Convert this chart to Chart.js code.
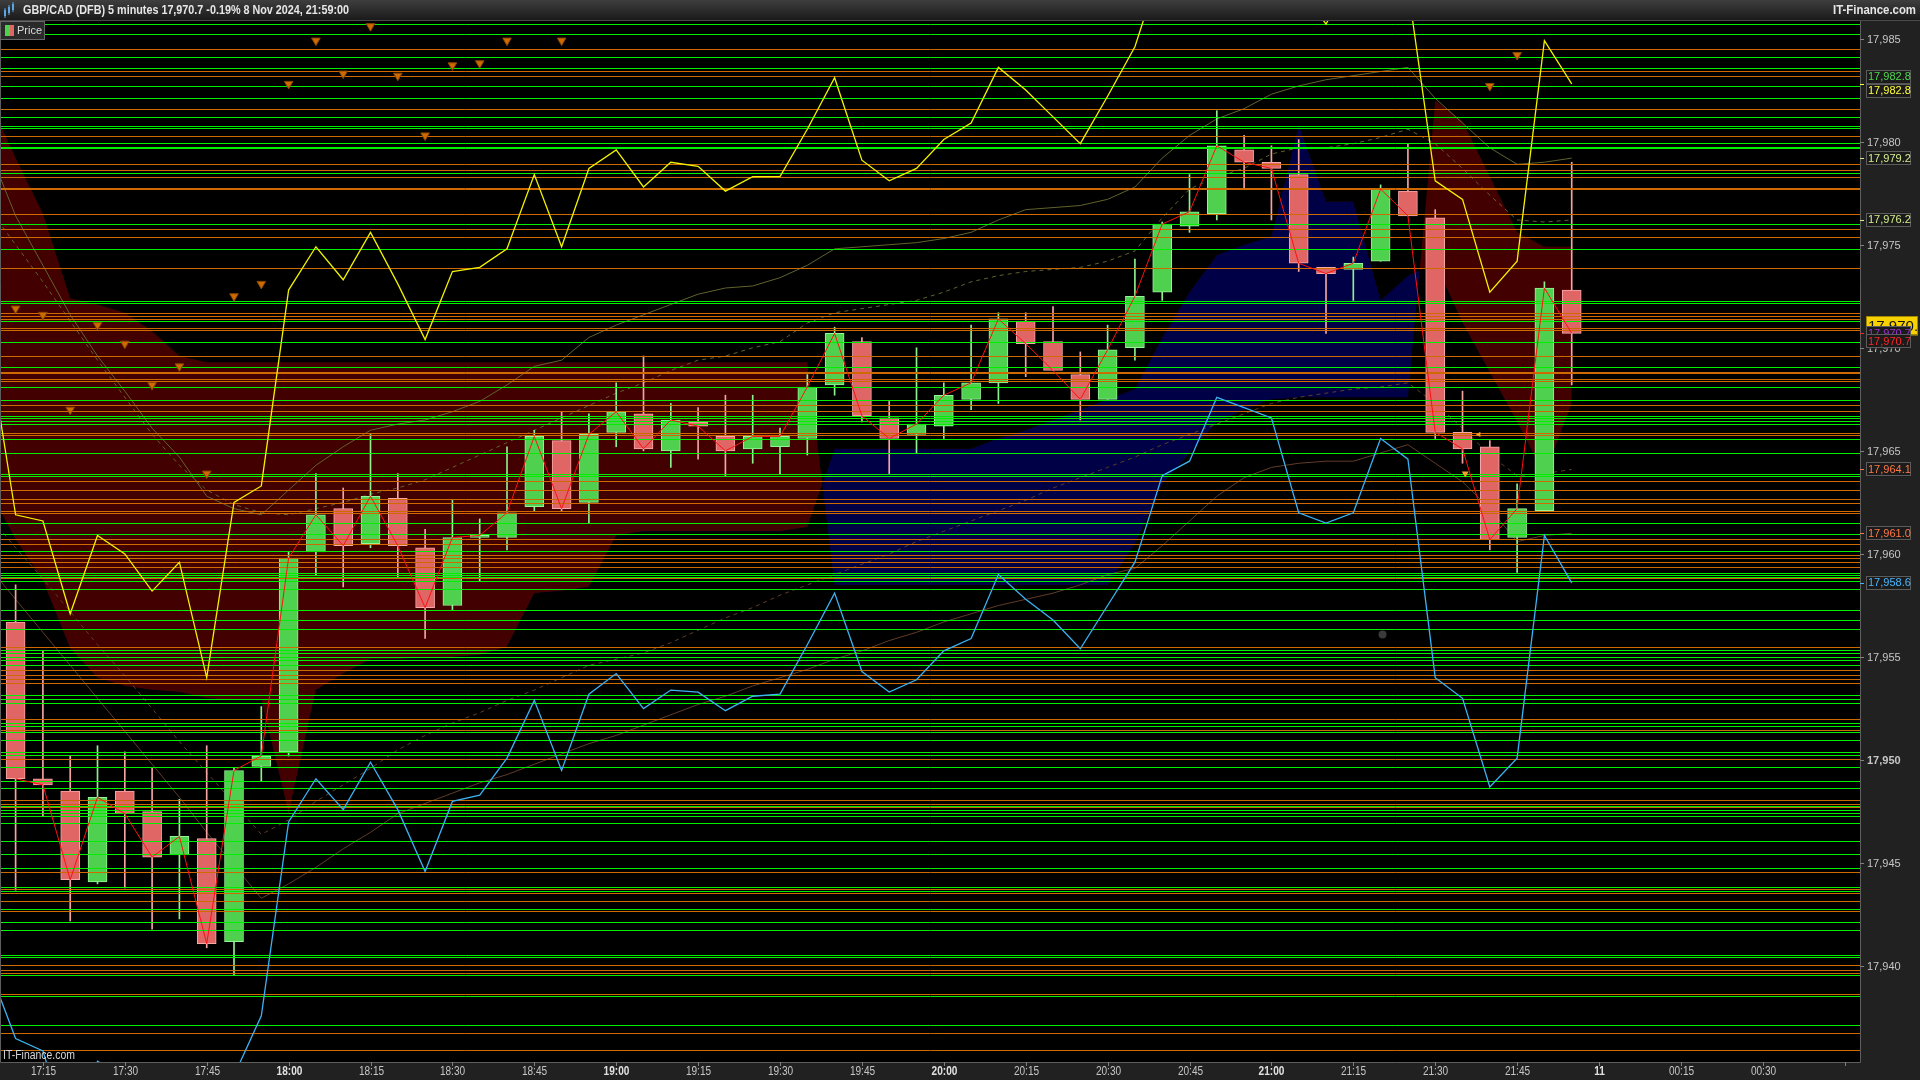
<!DOCTYPE html>
<html>
<head>
<meta charset="utf-8">
<title>GBP/CAD (DFB) 5 minutes</title>
<script src="https://cdn.jsdelivr.net/npm/chart.js@4.4.1/dist/chart.umd.min.js"></script>
<style>
  html, body { margin: 0; padding: 0; background: #000; overflow: hidden; }
</style>
</head>
<body>
<canvas id="priceChart" width="1920" height="1080"></canvas>
<script>
// 5 minute candles, index 0 = 17:10, index 57 = 21:55 (8 Nov 2024)
const opens  = [17956.7,17949.1,17948.5,17944.1,17948.5,17947.5,17945.4,17946.2,17941.2,17949.7,17950.4,17960.1,17962.2,17960.5,17962.7,17960.3,17957.5,17960.8,17960.8,17962.3,17965.5,17962.5,17965.9,17966.8,17965.0,17966.4,17965.7,17965.1,17965.2,17965.6,17968.2,17970.3,17966.6,17965.8,17966.2,17967.5,17968.3,17971.3,17970.3,17968.7,17967.5,17970.0,17972.7,17975.9,17976.5,17979.6,17979.0,17978.4,17973.9,17973.8,17974.2,17977.6,17976.3,17965.9,17965.2,17960.8,17962.1,17972.8];
const highs  = [17958.5,17955.3,17950.2,17950.7,17950.4,17949.6,17948.1,17950.7,17949.6,17952.6,17960.1,17963.9,17963.2,17965.8,17963.9,17961.2,17962.6,17961.7,17965.2,17966.0,17966.9,17966.8,17968.3,17969.6,17967.3,17967.1,17967.7,17967.7,17966.1,17968.7,17971.0,17970.5,17967.4,17970.0,17968.3,17971.1,17971.7,17971.7,17972.0,17969.8,17971.1,17974.3,17976.1,17978.4,17981.5,17980.3,17979.8,17980.1,17973.9,17974.4,17977.9,17979.9,17976.7,17967.9,17965.5,17963.4,17973.2,17979.0];
const lows   = [17943.7,17947.3,17942.2,17944.0,17943.8,17941.8,17942.3,17940.9,17939.6,17949.0,17950.2,17959.0,17958.4,17960.3,17958.9,17955.9,17957.3,17958.7,17960.2,17962.1,17962.1,17961.5,17965.2,17965.0,17964.2,17964.6,17963.8,17964.4,17963.9,17964.8,17967.7,17966.4,17963.9,17964.9,17965.6,17967.0,17967.3,17968.6,17968.9,17966.5,17967.5,17969.4,17972.3,17975.6,17976.2,17977.7,17976.2,17973.7,17970.7,17972.3,17974.2,17976.4,17965.6,17964.4,17960.2,17959.1,17962.1,17968.2];
const closes = [17949.1,17948.8,17944.2,17948.2,17947.4,17945.3,17946.3,17941.1,17949.5,17950.2,17959.8,17961.9,17960.4,17962.8,17960.4,17957.4,17960.8,17960.9,17962.0,17965.7,17962.2,17965.8,17966.9,17965.1,17966.5,17966.2,17965.0,17965.7,17965.7,17968.1,17970.7,17966.7,17965.6,17966.3,17967.7,17968.3,17971.4,17970.2,17968.9,17967.5,17969.9,17972.5,17976.0,17976.6,17979.8,17979.0,17978.7,17974.1,17973.6,17974.1,17977.7,17976.4,17965.9,17965.1,17960.7,17962.2,17972.9,17970.7];

// indicator series start one bar before the first candle
const indStart = -1;
const upperBand = [17970.2,17961.9,17961.6,17957.1,17960.9,17960.0,17958.2,17959.6,17954.0,17962.5,17963.3,17972.8,17974.9,17973.3,17975.6,17973.1,17970.4,17973.7,17973.9,17974.8,17978.4,17974.9,17978.7,17979.6,17977.8,17979.0,17978.8,17977.6,17978.3,17978.3,17980.6,17983.1,17979.1,17978.1,17978.7,17980.1,17980.9,17983.6,17982.5,17981.2,17979.9,17982.2,17984.6,17988.7,17990.4,17991.6,17990.4,17989.2,17987.5,17985.7,17988.1,17989.2,17987.5,17978.1,17977.2,17972.7,17974.2,17984.9,17982.8];
const lowerBand = [17940.0,17936.5,17935.9,17931.6,17935.4,17934.6,17932.8,17934.0,17928.7,17934.7,17937.6,17947.0,17949.1,17947.6,17949.9,17947.6,17944.6,17948.0,17948.3,17950.1,17952.9,17949.5,17953.2,17954.2,17952.5,17953.4,17953.3,17952.4,17953.1,17953.2,17955.6,17958.1,17954.3,17953.3,17953.9,17955.3,17955.9,17959.0,17957.8,17956.8,17955.4,17957.5,17959.6,17963.8,17964.5,17967.6,17967.1,17966.6,17962.0,17961.5,17962.0,17965.6,17964.6,17954.0,17953.0,17948.7,17950.1,17960.9,17958.6];
const maUpper    = [17979.7,17976.4,17974.0,17971.6,17969.6,17967.9,17966.1,17964.7,17962.8,17962.2,17961.9,17963.1,17964.3,17965.2,17966.0,17966.3,17966.5,17966.9,17967.4,17968.2,17969.1,17969.4,17970.5,17971.1,17971.6,17972.1,17972.6,17972.9,17973.0,17973.4,17974.0,17974.8,17974.9,17975.0,17975.1,17975.3,17975.6,17976.2,17976.7,17976.8,17976.9,17977.2,17977.8,17979.2,17980.3,17981.1,17981.6,17982.3,17982.7,17983.0,17983.2,17983.4,17983.6,17982.1,17980.9,17979.7,17978.9,17979.0,17979.2];
const maUpperDot = [17976.8,17975.0,17973.2,17971.3,17969.4,17967.6,17965.8,17964.3,17963.1,17962.4,17962.0,17961.9,17962.2,17962.5,17962.9,17963.2,17963.6,17964.2,17964.8,17965.4,17966.0,17966.6,17967.2,17967.8,17968.3,17968.9,17969.4,17969.6,17970.0,17970.3,17971.2,17971.7,17971.9,17972.1,17972.3,17972.7,17973.2,17973.5,17973.7,17973.8,17973.9,17974.2,17974.7,17976.3,17977.7,17978.3,17978.7,17979.4,17979.7,17979.7,17979.9,17980.2,17980.6,17979.9,17978.7,17977.4,17976.2,17976.1,17976.2];
const maLower    = [17959.4,17957.8,17956.2,17954.6,17953.0,17951.4,17949.8,17948.2,17946.5,17944.9,17943.3,17944.0,17944.8,17945.7,17946.5,17947.4,17947.9,17948.4,17948.9,17949.3,17949.8,17950.3,17950.8,17951.2,17951.7,17952.2,17952.7,17953.1,17953.6,17954.0,17954.4,17954.9,17955.3,17955.8,17956.2,17956.7,17957.1,17957.5,17957.8,17958.1,17958.5,17959.0,17959.3,17960.4,17961.6,17962.8,17963.7,17964.2,17964.4,17964.5,17964.5,17964.9,17965.3,17964.4,17963.5,17962.2,17960.6,17960.9,17961.0];
const maLowerDot = [17961.9,17960.3,17958.8,17957.2,17955.6,17954.1,17952.5,17950.9,17949.4,17947.9,17946.4,17947.1,17948.0,17948.8,17949.6,17950.5,17951.2,17951.8,17952.3,17952.9,17953.4,17954.0,17954.6,17954.9,17955.2,17955.7,17956.3,17956.9,17957.4,17958.0,17958.5,17959.0,17959.5,17960.0,17960.6,17961.1,17961.6,17962.1,17962.6,17963.2,17963.7,17964.2,17964.7,17965.3,17965.8,17966.3,17966.8,17967.3,17967.6,17967.8,17968.0,17968.1,17968.3,17967.3,17966.1,17964.8,17963.8,17963.9,17964.1];
const cloudA = [17982.1,17979.2,17976.5,17972.4,17972.1,17971.7,17970.8,17969.6,
  17969.3,17969.3,17969.3,17969.3,17969.3,17969.3,17969.3,17969.3,17969.3,17969.3,17969.3,17969.3,17969.3,17969.3,17969.3,17969.3,17969.3,17969.3,17969.3,17969.3,17969.3,17969.3,17969.3,
  17958.5,17958.5,17958.5,17958.5,17958.5,17958.5,17958.5,17958.5,17958.5,17958.5,17958.5,
  17960.5,17963.4,17964.9,17966.4,17967.0,17967.5,17967.6,17967.6,17967.6,17967.6,17967.6,
  17982.0,17981.0,17978.3,17975.6,17974.9,17974.9];
const cloudB = [17963.1,17960.7,17958.7,17955.4,17954.0,17953.6,17953.4,17953.3,
  17953.0,17952.9,17952.9,17947.4,17953.4,17954.2,17954.9,17954.9,17955.0,17955.0,17955.1,17955.5,
  17958.1,17958.2,17958.4,17960.9,17961.1,17961.1,17961.1,17961.1,17961.1,17961.1,17961.3,
  17965.1,17965.1,17965.1,17965.1,17965.1,17965.1,17965.6,17966.0,17966.5,17967.0,17967.5,17968.0,
  17970.5,17972.7,17974.5,17975.0,17975.4,17980.8,17977.1,17977.1,17972.3,17973.5,
  17974.1,17971.2,17968.8,17966.4,17963.8,17967.3];

// down-arrow signals
const signalIdx = [0,1,2,3,4,5,6,7,8,9,10,11,12,13,14,15,16,17,18,20,54,55];
const signalVal = [17971.9,17971.6,17967.0,17971.1,17970.2,17968.2,17969.1,17963.9,17972.5,17973.1,17982.8,17984.9,17983.3,17985.6,17983.2,17980.3,17983.7,17983.8,17984.9,17984.9,17982.7,17984.2];

// drawn horizontal levels
const greenLevels = [17985.69,17985.20,17984.09,17983.58,17982.70,17982.10,17981.18,17980.77,17980.67,17979.95,17979.75,17979.69,17978.46,17975.99,17974.79,17972.26,17972.16,17971.31,17970.28,17969.05,17968.08,17967.45,17966.69,17966.58,17966.45,17966.29,17965.56,17964.88,17963.88,17963.80,17961.49,17960.96,17960.16,17959.09,17958.98,17958.90,17958.69,17958.29,17957.28,17956.80,17956.35,17955.34,17955.21,17955.02,17954.85,17954.62,17953.16,17952.95,17952.77,17951.82,17951.66,17951.38,17950.98,17950.38,17950.25,17949.66,17948.98,17948.64,17947.79,17947.57,17947.45,17947.29,17946.94,17946.07,17945.44,17944.77,17943.84,17943.66,17942.77,17942.14,17941.75,17940.54,17940.46,17939.57,17938.55,17937.14];
const orangeLevels = [17984.48,17983.41,17983.17,17981.57,17980.27,17978.90,17978.62,17978.27,17977.76,17977.70,17976.47,17975.75,17975.36,17973.89,17971.70,17971.54,17971.41,17970.97,17970.88,17969.60,17968.84,17968.76,17968.49,17968.40,17967.21,17966.95,17965.87,17965.76,17963.55,17963.09,17962.65,17962.46,17962.07,17961.97,17960.74,17960.47,17959.94,17959.81,17959.63,17959.38,17958.82,17955.50,17954.37,17954.15,17953.92,17953.73,17952.00,17951.48,17950.06,17948.06,17947.88,17947.72,17947.43,17944.58,17943.74,17943.55,17943.16,17942.67,17940.07,17939.83,17939.68,17938.65,17936.76,17935.93];

// axes
const xTickIdx  = [1,4,7,10,13,16,19,22,25,28,31,34,37,40,43,46,49,52,55,58,61,64,67];
const xTickText = ['17:15','17:30','17:45','18:00','18:15','18:30','18:45','19:00','19:15','19:30','19:45','20:00','20:15','20:30','20:45','21:00','21:15','21:30','21:45','11','00:15','00:30',''];
const xBold = ['18:00','19:00','20:00','21:00','11'];
const yTicks = [17940,17945,17950,17955,17960,17965,17970,17975,17980,17985];
const tagValues = [17982.8,17982.8,17979.2,17976.2,17964.1,17961.0,17958.6];
const tagColors = ['#4fd64f','#ffff3c','#d4ee8c','#d4ee8c','#ff7846','#ff7846','#47b6ff'];
const lastPrice = 17970.7;

const idx = closes.map((_, i) => i);
const rising = closes.map((c, i) => c >= opens[i]);
const series = arr => arr.map((v, k) => ({ x: k + indStart, y: v }));
const fmt = (v, d) => v.toLocaleString('en-US', { minimumFractionDigits: d, maximumFractionDigits: d });

function squeeze(ctx, text, x, y, k, align) {
  ctx.save();
  ctx.translate(x, y);
  ctx.scale(k, 1);
  ctx.textAlign = align;
  ctx.fillText(text, 0, 0);
  ctx.restore();
}
function fitText(ctx, text, x, y, w, align) {
  squeeze(ctx, text, x, y, w / ctx.measureText(text).width, align);
}

const framePlugin = {
  id: 'frame',
  beforeDraw(chart) {
    const { ctx, chartArea: a, width, height } = chart;
    ctx.save();
    ctx.fillStyle = '#212121';
    ctx.fillRect(0, 0, width, height);
    ctx.fillStyle = '#000';
    ctx.fillRect(a.left, a.top, a.right - a.left, a.bottom - a.top);
    ctx.restore();
  },
  afterDatasetDraw(chart, args) {
    if (chart.data.datasets[args.index].label !== 'Bodies') return;
    const { ctx, chartArea: a, scales: { y } } = chart;
    ctx.save();
    ctx.lineWidth = 1;
    const draw = (levels, color) => {
      ctx.strokeStyle = color;
      ctx.beginPath();
      levels.forEach(v => {
        const py = Math.round(y.getPixelForValue(v)) + 0.5;
        if (py < a.top || py > a.bottom) return;
        ctx.moveTo(a.left, py);
        ctx.lineTo(a.right, py);
      });
      ctx.stroke();
    };
    draw(orangeLevels, '#cf6a00');
    draw(greenLevels, '#00f000');
    ctx.restore();
  },
  afterDraw(chart) {
    const { ctx, chartArea: a, scales: { x, y }, width } = chart;
    ctx.save();

    // plot border
    ctx.strokeStyle = '#5e5e5e';
    ctx.lineWidth = 1;
    ctx.beginPath();
    ctx.moveTo(0.5, a.top); ctx.lineTo(0.5, a.bottom + 0.5);
    ctx.lineTo(a.right + 0.5, a.bottom + 0.5); ctx.lineTo(a.right + 0.5, a.top);
    ctx.stroke();

    // header bar
    const g = ctx.createLinearGradient(0, 0, 0, 20);
    g.addColorStop(0, '#3e3e3e');
    g.addColorStop(1, '#1a1a1a');
    ctx.fillStyle = g;
    ctx.fillRect(0, 0, width, 20);
    ctx.fillStyle = '#4a4a4a';
    ctx.fillRect(0, 20, width, 1);
    // small candle icon
    ctx.fillStyle = '#5aa6e6';
    ctx.fillRect(4, 10, 2, 6); ctx.fillRect(4.5, 8, 1, 10);
    ctx.fillRect(8, 7, 2, 6); ctx.fillRect(8.5, 5, 1, 10);
    ctx.fillRect(12, 4, 2, 6); ctx.fillRect(12.5, 2, 1, 10);
    ctx.fillStyle = '#e6e6e6';
    ctx.textBaseline = 'middle';
    ctx.font = 'bold 12px "Liberation Sans", Arial, sans-serif';
    fitText(ctx, 'GBP/CAD (DFB) 5 minutes ' + fmt(lastPrice, 1) + ' -0.19% 8 Nov 2024, 21:59:00', 23, 11, 326, 'left');
    fitText(ctx, 'IT-Finance.com', 1916, 11, 83, 'right');

    // legend box
    ctx.fillStyle = '#2a2a2a';
    ctx.fillRect(0, 21, 45, 19);
    ctx.strokeStyle = '#666';
    ctx.strokeRect(0.5, 21.5, 44, 18);
    ctx.fillStyle = '#4ed24e'; ctx.fillRect(5, 25, 5, 11);
    ctx.fillStyle = '#e06666'; ctx.fillRect(10, 25, 4, 11);
    ctx.fillStyle = '#dcdcdc';
    ctx.font = '11px "Liberation Sans", Arial, sans-serif';
    ctx.textAlign = 'left';
    ctx.fillText('Price', 17, 31);

    // watermark
    ctx.fillStyle = '#d8d8d8';
    ctx.font = '12px "Liberation Sans", Arial, sans-serif';
    fitText(ctx, 'IT-Finance.com', 3, 1056, 72, 'left');

    // y axis ticks
    ctx.textBaseline = 'middle';
    yTicks.forEach(v => {
      const py = Math.round(y.getPixelForValue(v)) + 0.5;
      ctx.strokeStyle = '#808080';
      ctx.beginPath(); ctx.moveTo(a.right, py); ctx.lineTo(a.right + 4, py); ctx.stroke();
      ctx.font = (v === 17950 ? 'bold ' : '') + '11px "Liberation Sans", Arial, sans-serif';
      ctx.fillStyle = '#c6c6c6';
      ctx.textAlign = 'left';
      ctx.fillText(fmt(v, 0), a.right + 7, py + 0.5);
    });

    // x axis ticks
    xTickIdx.forEach((i, k) => {
      const px = Math.round(x.getPixelForValue(i)) + 0.5;
      ctx.strokeStyle = '#808080';
      ctx.beginPath(); ctx.moveTo(px, a.bottom); ctx.lineTo(px, a.bottom + 4); ctx.stroke();
      const t = xTickText[k];
      if (!t) return;
      ctx.font = (xBold.includes(t) ? 'bold ' : '') + '12px "Liberation Sans", Arial, sans-serif';
      ctx.fillStyle = xBold.includes(t) ? '#e0e0e0' : '#c6c6c6';
      squeeze(ctx, t, px, 1072, 0.84, 'center');
    });

    // value tags on the price axis
    ctx.font = '11px "Liberation Sans", Arial, sans-serif';
    const tagBox = (py, text, color) => {
      ctx.fillStyle = '#1b1b1b';
      ctx.fillRect(a.right + 6, py - 7, 45, 14);
      ctx.strokeStyle = '#5c5c5c';
      ctx.strokeRect(a.right + 6.5, Math.round(py - 7) + 0.5, 44, 13);
      ctx.fillStyle = color;
      ctx.textAlign = 'left';
      ctx.fillText(text, a.right + 8, py + 0.5);
    };
    const used = {};
    tagValues.forEach((v, k) => {
      const py = y.getPixelForValue(v);
      ctx.fillStyle = tagColors[k];
      ctx.fillRect(a.right, Math.round(py), 4, 1);
      const key = v.toFixed(1);
      const n = used[key] = (used[key] || 0) + 1;
      const dup = tagValues.filter(t => t.toFixed(1) === key).length;
      const off = dup > 1 ? (n === 1 ? -7 : 7) : 0;
      tagBox(py + off, fmt(v, 1), tagColors[k]);
    });

    // last price: yellow box, then purple and red tags over it
    const lp = y.getPixelForValue(lastPrice);
    ctx.fillStyle = '#ff2020';
    ctx.fillRect(a.right, Math.round(lp), 4, 1);
    ctx.fillStyle = '#f7d200';
    ctx.fillRect(a.right + 6, lp - 17, 52, 19);
    ctx.strokeStyle = '#a08800';
    ctx.strokeRect(a.right + 6.5, Math.round(lp - 17) + 0.5, 51, 18);
    ctx.fillStyle = '#111';
    ctx.font = '15px "Liberation Sans", Arial, sans-serif';
    ctx.textAlign = 'left';
    ctx.fillText(fmt(lastPrice, 1), a.right + 8, lp - 7);
    ctx.font = '11px "Liberation Sans", Arial, sans-serif';
    tagBox(lp, fmt(lastPrice, 1), '#9d33d6');
    tagBox(lp + 8, fmt(lastPrice, 1), '#ff2424');

    ctx.restore();
  }
};

const noPts = { pointRadius: 0, pointHoverRadius: 0, tension: 0 };

new Chart(document.getElementById('priceChart').getContext('2d'), {
  type: 'bar',
  data: {
    datasets: [
      { type: 'line', label: 'Cloud A', data: series(cloudA), borderWidth: 0, borderColor: 'rgba(0,0,0,0)',
        fill: { target: '+1', above: '#420000', below: '#000046' }, order: 30, ...noPts },
      { type: 'line', label: 'Cloud B', data: series(cloudB), borderWidth: 0, borderColor: 'rgba(0,0,0,0)',
        fill: false, order: 30, ...noPts },
      { type: 'line', label: 'MA upper', data: series(maUpper), borderColor: '#62622e', borderWidth: 1, fill: false, order: 20, ...noPts },
      { type: 'line', label: 'MA upper 2', data: series(maUpperDot), borderColor: '#62622e', borderWidth: 1, borderDash: [4, 4], fill: false, order: 20, ...noPts },
      { type: 'line', label: 'MA lower', data: series(maLower), borderColor: '#603c28', borderWidth: 1, fill: false, order: 20, ...noPts },
      { type: 'line', label: 'MA lower 2', data: series(maLowerDot), borderColor: '#603c28', borderWidth: 1, borderDash: [4, 4], fill: false, order: 20, ...noPts },
      { label: 'Wicks', data: idx.map(i => ({ x: i, y: [lows[i], highs[i]] })),
        backgroundColor: rising.map(r => r ? '#8ef08e' : '#f5a3a3'),
        barThickness: 1, grouped: false, borderWidth: 0, order: 15 },
      { label: 'Bodies', data: idx.map(i => ({ x: i, y: [opens[i], closes[i]] })),
        backgroundColor: rising.map(r => r ? '#4fd14f' : '#e06666'),
        borderColor: rising.map(r => r ? '#96f596' : '#f7a9a9'),
        borderWidth: 1, borderSkipped: false, barThickness: 19, grouped: false, order: 14 },
      { type: 'line', label: 'Close', data: idx.map(i => ({ x: i, y: closes[i] })), borderColor: '#ff1010', borderWidth: 1, fill: false, order: 6, ...noPts },
      { type: 'line', label: 'Upper band', data: series(upperBand), borderColor: '#f2f200', borderWidth: 1.3, fill: false, order: 5, ...noPts },
      { type: 'line', label: 'Lower band', data: series(lowerBand), borderColor: '#3cb2f2', borderWidth: 1.3, fill: false, order: 5, ...noPts },
      { type: 'line', label: 'Signals', data: signalIdx.map((i, k) => ({ x: i, y: signalVal[k] })), showLine: false,
        pointStyle: 'triangle', rotation: 180, pointRadius: 5, pointBackgroundColor: '#cf6a00', pointBorderColor: '#8a4600',
        pointBorderWidth: 1, order: 4 },
      { type: 'line', label: 'Marks', data: [{ x: 53.1, y: 17963.9 }, { x: 53.6, y: 17965.8 }, { x: 50.07, y: 17956.1 }], showLine: false,
        pointStyle: ['triangle', 'triangle', 'circle'], rotation: [180, 270, 0], pointRadius: [4, 3, 4],
        pointBackgroundColor: ['#f3a428', '#f3a428', '#3a3a3a'], pointBorderWidth: 0, order: 3 }
    ]
  },
  options: {
    responsive: false,
    devicePixelRatio: 1,
    animation: false,
    events: [],
    layout: { autoPadding: false, padding: { left: 1, right: 60, top: 21, bottom: 18 } },
    plugins: { legend: { display: false }, tooltip: { enabled: false } },
    scales: {
      x: { type: 'linear', display: false, offset: false, min: -0.535, max: 67.56 },
      y: { type: 'linear', display: false, beginAtZero: false, min: 17935.36, max: 17985.85 }
    }
  },
  plugins: [framePlugin]
});
</script>
</body>
</html>
